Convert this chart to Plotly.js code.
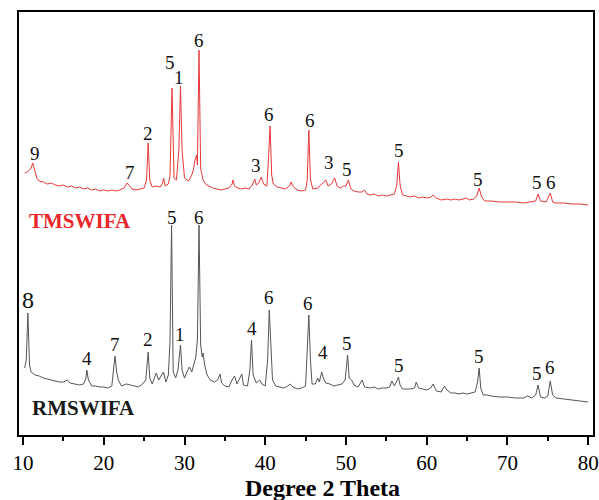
<!DOCTYPE html>
<html>
<head>
<meta charset="utf-8">
<script src="https://cdn.plot.ly/plotly-3.0.1.min.js"></script>
<style>html,body{margin:0;padding:0;background:#fff;}#chart{width:599px;height:500px;}</style>
</head>
<body>
<div id="chart"></div>
<script>
// TMSWIFA pattern (offset intensity, a.u.)
const tmsTheta = [10.2,10.5,10.8,11.0,11.2,11.4,11.7,12.0,12.5,13.0,13.5,14.0,14.5,15.0,15.5,16.0,16.5,17.0,17.5,18.0,18.5,19.0,19.5,20.0,20.5,21.0,21.5,22.0,22.5,22.9,23.2,23.5,24.0,24.5,25.0,25.3,25.5,25.7,26.0,26.5,27.0,27.3,27.4,27.6,28.0,28.2,28.45,28.7,29.0,29.3,29.5,29.7,30.0,30.5,30.9,31.1,31.3,31.5,31.6,31.8,32.0,32.3,32.6,33.0,33.5,34.0,34.5,35.0,35.5,35.9,36.0,36.2,36.6,37.0,37.5,38.0,38.4,38.7,38.9,39.2,39.5,39.8,40.2,40.4,40.6,40.8,41.0,41.5,42.0,42.5,43.0,43.2,43.5,44.0,44.5,45.0,45.2,45.4,45.6,45.9,46.5,47.0,47.5,47.8,48.2,48.6,48.9,49.3,49.7,50.0,50.3,50.6,51.0,51.5,52.0,52.3,52.6,53.0,53.5,54.0,54.5,55.0,55.5,56.0,56.3,56.5,56.7,57.0,57.5,58.0,58.5,59.0,59.5,60.0,60.5,60.8,61.2,61.8,62.5,63.0,63.5,64.0,64.5,64.9,65.3,65.8,66.2,66.5,66.8,67.2,68.0,69.0,70.0,71.0,72.0,73.0,73.5,73.8,74.1,74.8,75.3,75.6,76.0,77.0,78.0,79.0,80.0];
const tmsIntensity = [262,263,265,267,272,265,257,254,253,251,252,250,249,250,248,249,247,248,246,247,245,246,244,245,244,245,244,245,247,252,249,246,245,246,247,255,292,255,248,249,248,252,257,249,251,259,347,257,255,285,349,285,257,254,260,265,275,280,270,385,267,255,251,249,247,246,245,246,247,251,255,249,247,246,247,246,250,256,250,252,258,251,249,275,309,260,251,248,247,246,249,253,248,245,244,245,255,305,255,246,247,251,255,249,251,257,249,247,249,249,255,246,244,243,243,245,241,240,241,239,240,239,240,241,250,273,250,240,239,238,239,237,238,237,238,240,237,235,236,235,236,235,236,237,235,236,239,247,238,234,234,233,233,233,232,233,234,241,234,233,242,233,232,232,231,231,230];

// RMSWIFA pattern (offset intensity, a.u.)
const rmsTheta = [10.2,10.4,10.6,10.8,11.0,11.5,12.0,12.5,13.0,13.5,14.0,14.5,15.0,15.5,15.8,16.5,17.0,17.5,17.8,17.9,18.1,18.5,19.0,19.5,20.0,20.5,21.0,21.2,21.4,21.6,21.8,22.2,22.8,23.3,23.8,24.3,24.8,25.2,25.5,25.7,26.0,26.3,26.5,26.8,27.1,27.4,27.7,28.0,28.2,28.4,28.6,28.9,29.2,29.5,29.7,30.0,30.3,30.6,30.9,31.2,31.4,31.6,31.8,32.0,32.2,32.3,32.5,32.8,33.2,33.7,34.1,34.4,34.6,35.0,35.5,35.9,36.2,36.5,36.9,37.1,37.3,37.8,38.1,38.3,38.5,38.9,39.3,39.6,40.0,40.3,40.5,40.7,40.9,41.3,41.8,42.3,42.8,43.1,43.4,44.0,44.5,45.0,45.2,45.4,45.6,45.8,46.2,46.5,46.7,47.0,47.2,47.5,48.0,48.5,49.0,49.5,49.9,50.2,50.4,50.7,51.0,51.5,52.0,52.3,53.0,53.5,54.0,54.5,55.0,55.4,55.7,56.0,56.3,56.5,56.7,57.0,57.5,58.0,58.5,58.7,59.0,59.5,60.0,60.5,60.8,61.2,61.8,62.2,62.5,63.0,63.5,64.0,64.5,65.0,65.5,66.0,66.3,66.5,66.7,67.0,67.5,68.0,69.0,70.0,71.0,72.0,72.5,73.0,73.5,73.8,74.1,74.6,75.0,75.3,75.6,76.0,77.0,78.0,79.0,80.0];
const rmsIntensity = [67,75,122,70,63,60,59,57,56,55,54,53,53,55,52,51,50,51,57,65,55,49,49,48,48,47,49,65,79,63,55,49,51,50,49,48,51,55,83,57,51,58,62,55,59,63,53,60,93,210,63,57,65,90,65,57,63,68,63,73,78,95,210,90,78,82,70,60,55,53,55,61,52,49,48,55,59,51,57,61,50,49,65,95,60,52,55,51,49,75,125,80,55,49,48,47,49,51,48,46,47,49,85,120,75,51,51,57,53,63,57,52,51,49,50,51,55,80,57,55,50,48,55,48,47,48,46,47,47,48,54,49,54,58,50,46,46,46,47,53,47,46,45,47,51,44,43,49,45,42,42,41,42,41,42,43,53,67,47,40,40,39,38,38,37,37,39,37,40,50,38,37,39,54,40,37,36,35,34,33];

// Phase labels
const tmsLabels = ['9','7','2','5','1','6','3','6','6','3','5','5','5','5','6'];
const tmsLabelTheta = [11.5,23.3,25.5,28.2,29.3,31.8,38.9,40.5,45.6,47.9,50.1,56.6,66.4,73.7,75.4];
const tmsLabelLevel = [282,263,302,373,358,395,270,321,315,273,266,285,256,253,253];
const rmsLabels = ['8','4','7','2','5','1','6','4','6','6','4','5','5','5','5','6'];
const rmsLabelTheta = [10.6,17.9,21.4,25.5,28.4,29.5,31.8,38.3,40.5,45.3,47.2,50.1,56.6,66.5,73.7,75.3];
const rmsLabelLevel = [135,77,91,96,218,101,218,107,138,132,83,92,70,79,62,68];

const seriesNames = ['TMSWIFA','RMSWIFA'];
const xTitle = 'Degree 2 Theta';
const xTickVals = [10,20,30,40,50,60,70,80];

const serif = 'Liberation Serif, Times New Roman, serif';
const redColor = '#e8383b';
const grayColor = '#555555';

const traces = [
  {x: tmsTheta, y: tmsIntensity, type: 'scatter', mode: 'lines', name: seriesNames[0],
   line: {color: redColor, width: 1}},
  {x: rmsTheta, y: rmsIntensity, type: 'scatter', mode: 'lines', name: seriesNames[1],
   line: {color: grayColor, width: 1}}
];

const annotations = [];
tmsLabels.forEach((t, i) => annotations.push({
  x: tmsLabelTheta[i], y: tmsLabelLevel[i], xref: 'x', yref: 'y', text: t, showarrow: false,
  xanchor: 'center', yanchor: 'middle', font: {family: serif, size: 19, color: '#111'}
}));
rmsLabels.forEach((t, i) => annotations.push({
  x: rmsLabelTheta[i], y: rmsLabelLevel[i], xref: 'x', yref: 'y', text: t, showarrow: false,
  xanchor: 'center', yanchor: 'middle', font: {family: serif, size: t === '8' ? 24 : 19, color: '#111'}
}));
annotations.push({x: 10.5, y: 214, xref: 'x', yref: 'y', text: '<b>' + seriesNames[0] + '</b>', showarrow: false,
  xanchor: 'left', yanchor: 'middle', font: {family: serif, size: 21, color: '#e8272b'}});
annotations.push({x: 10.8, y: 27, xref: 'x', yref: 'y', text: '<b>' + seriesNames[1] + '</b>', showarrow: false,
  xanchor: 'left', yanchor: 'middle', font: {family: serif, size: 21, color: '#1a1a1a'}});
annotations.push({x: 0.528, y: -0.125, xref: 'paper', yref: 'paper', text: '<b>' + xTitle + '</b>', showarrow: false,
  xanchor: 'center', yanchor: 'middle', font: {family: serif, size: 24, color: '#000'}});

const layout = {
  width: 599, height: 500,
  margin: {l: 19, r: 6, t: 12, b: 65},
  paper_bgcolor: '#fff', plot_bgcolor: '#fff',
  showlegend: false,
  xaxis: {
    range: [9.5, 80.6], tickvals: xTickVals, ticktext: xTickVals.map(String),
    ticks: 'outside', ticklen: 8, tickwidth: 2, tickcolor: '#000',
    minor: {dtick: 5, tick0: 0, ticks: 'outside', ticklen: 4, tickwidth: 2, tickcolor: '#000'},
    showline: true, linewidth: 2, linecolor: '#000', mirror: true,
    showgrid: false, zeroline: false,
    tickfont: {family: serif, size: 21, color: '#000'}
  },
  yaxis: {
    range: [0, 423], showticklabels: false, ticks: '',
    showline: true, linewidth: 2, linecolor: '#000', mirror: true,
    showgrid: false, zeroline: false
  },
  annotations: annotations
};

Plotly.newPlot('chart', traces, layout, {displayModeBar: false, staticPlot: true});
</script>
</body>
</html>
